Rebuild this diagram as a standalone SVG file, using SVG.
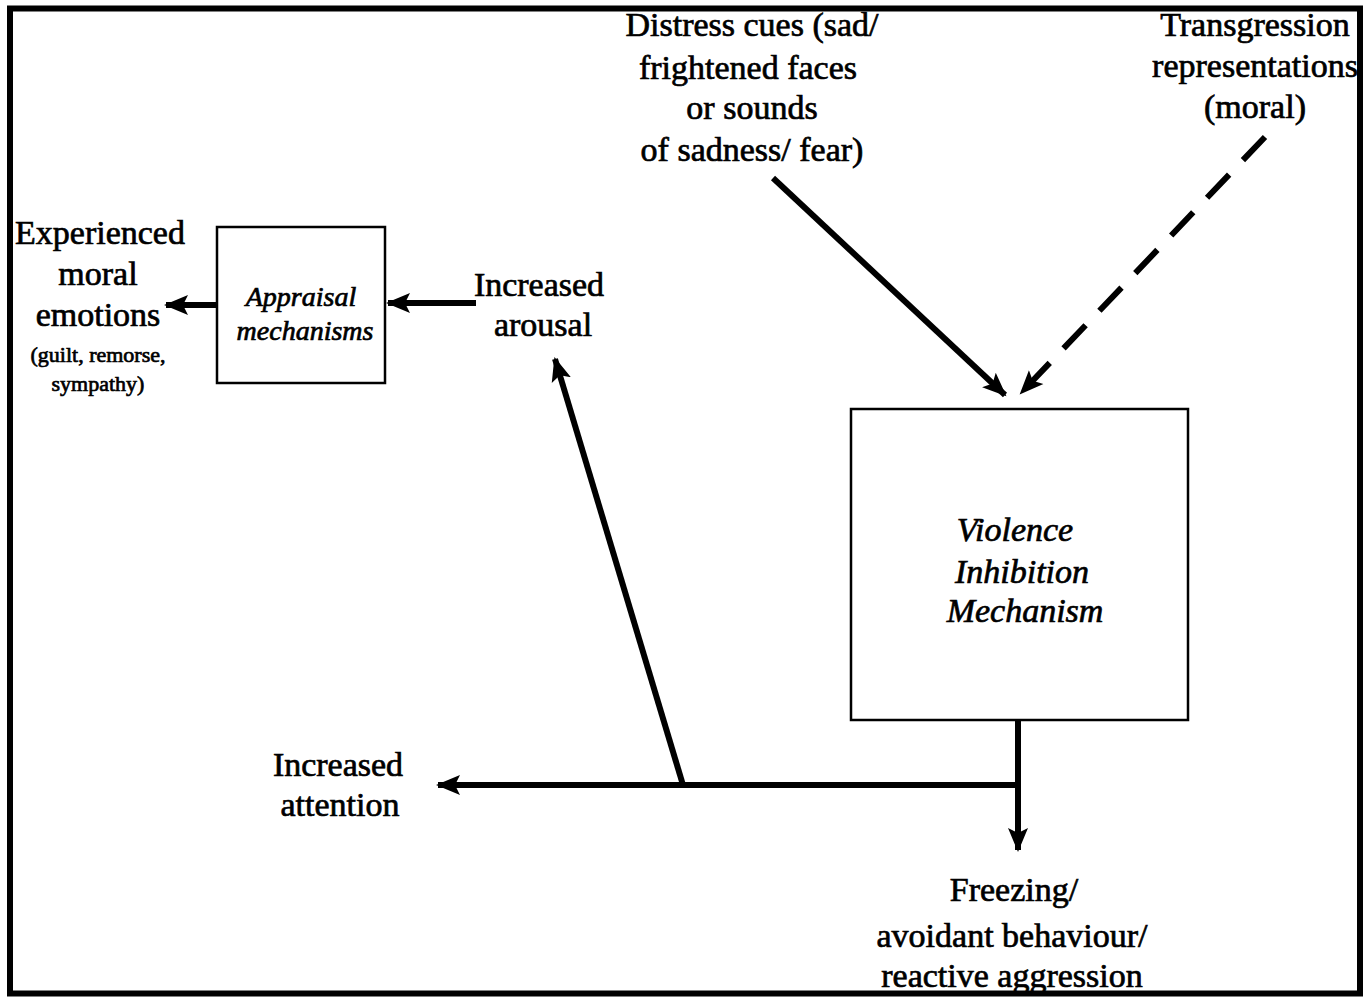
<svg xmlns="http://www.w3.org/2000/svg" width="1364" height="997" viewBox="0 0 1364 997">
<style>
text{font-family:"Liberation Serif","Times New Roman",serif;fill:#000;text-anchor:middle;stroke:#000;stroke-width:0.7}
.t{font-size:34px}
.s{font-size:22px}
.i{font-style:italic}
.box{fill:#fff;stroke:#000;stroke-width:2.5}
.c{stroke:#000;stroke-width:6;fill:none}
</style>
<defs>
<marker id="ah" markerUnits="userSpaceOnUse" markerWidth="26" markerHeight="22" refX="22" refY="11" orient="auto">
<path d="M0,1 L24,11 L0,21 L5,11 Z" fill="#000"/>
</marker>
</defs>
<rect x="10" y="8.5" width="1350" height="985" fill="#fff" stroke="#000" stroke-width="6"/>

<g id="connectors">
<line class="c" x1="217" y1="305" x2="166" y2="305" marker-end="url(#ah)"/>
<line class="c" x1="476" y1="303" x2="388" y2="303" marker-end="url(#ah)"/>
<line class="c" x1="773" y1="178" x2="1005" y2="395" marker-end="url(#ah)"/>
<line class="c" x1="1265" y1="137" x2="1021" y2="393" stroke-dasharray="32,20" marker-end="url(#ah)"/>
<line class="c" x1="1018" y1="720" x2="1018" y2="850" marker-end="url(#ah)"/>
<line class="c" x1="1021" y1="785" x2="438" y2="785" marker-end="url(#ah)"/>
<line class="c" x1="683" y1="785" x2="555" y2="359" marker-end="url(#ah)"/>
</g>

<g id="distress">
<text class="t" x="752" y="36">Distress cues (sad/</text>
<text class="t" x="748" y="79">frightened faces</text>
<text class="t" x="752" y="119">or sounds</text>
<text class="t" x="752" y="161">of sadness/ fear)</text>
</g>
<g id="transgression">
<text class="t" x="1255" y="36">Transgression</text>
<text class="t" x="1255" y="77">representations</text>
<text class="t" x="1255" y="118">(moral)</text>
</g>
<g id="experienced">
<text class="t" x="100" y="244">Experienced</text>
<text class="t" x="98" y="285">moral</text>
<text class="t" x="98" y="326">emotions</text>
<text class="s" x="98" y="362">(guilt, remorse,</text>
<text class="s" x="98" y="391">sympathy)</text>
</g>
<g id="appraisal">
<rect class="box" x="217" y="227" width="168" height="156"/>
<text class="t i" x="301" y="306" style="font-size:28px">Appraisal</text>
<text class="t i" x="305" y="340" style="font-size:28px">mechanisms</text>
</g>
<g id="arousal">
<text class="t" x="539" y="296">Increased</text>
<text class="t" x="543" y="336">arousal</text>
</g>
<g id="vim">
<rect class="box" x="851" y="409" width="337" height="311"/>
<text class="t i" x="1015" y="541">Violence</text>
<text class="t i" x="1022" y="583">Inhibition</text>
<text class="t i" x="1025" y="622">Mechanism</text>
</g>
<g id="attention">
<text class="t" x="338" y="776">Increased</text>
<text class="t" x="340" y="816">attention</text>
</g>
<g id="freezing">
<text class="t" x="1014" y="901">Freezing/</text>
<text class="t" x="1012" y="947">avoidant behaviour/</text>
<text class="t" x="1012" y="987">reactive aggression</text>
</g>
</svg>
